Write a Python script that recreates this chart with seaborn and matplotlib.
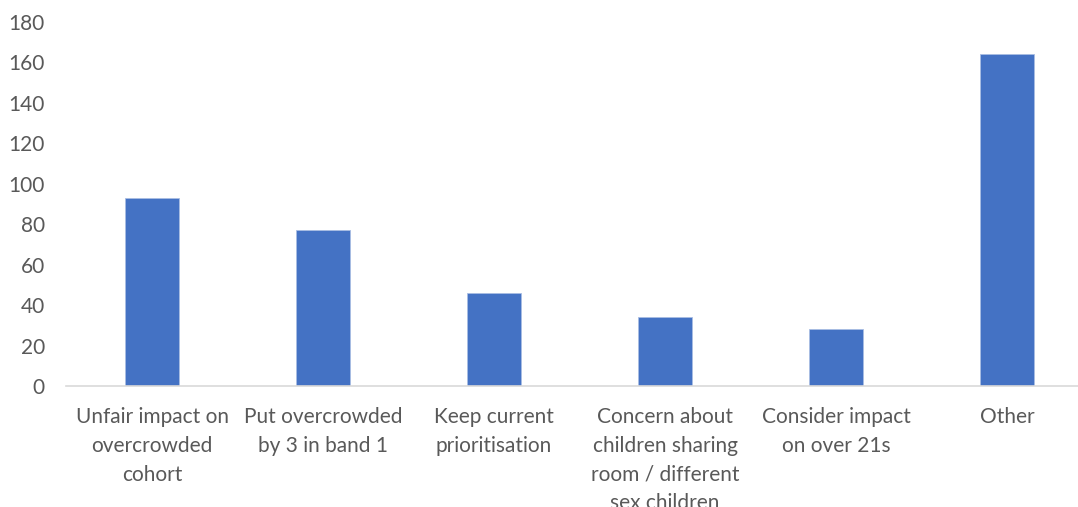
import matplotlib
matplotlib.use("Agg")
import matplotlib.pyplot as plt
import seaborn as sns
import pandas as pd

categories = [
    "Unfair impact on\novercrowded\ncohort",
    "Put overcrowded\nby 3 in band 1",
    "Keep current\nprioritisation",
    "Concern about\nchildren sharing\nroom / different\nsex children",
    "Consider impact\non over 21s",
    "Other",
]
values = [93, 77, 46, 34, 28, 164]
y_ticks = [0, 20, 40, 60, 80, 100, 120, 140, 160, 180]

sns.set_theme(style="white")
plt.rcParams["font.family"] = ["Lato", "DejaVu Sans"]

df = pd.DataFrame({"category": categories, "value": values})

fig = plt.figure(figsize=(10.78, 5.07), dpi=100)
ax = fig.add_axes([66.5 / 1078, 121 / 507, (1078 - 66.5) / 1078, (386 - 22) / 507])

sns.barplot(data=df, x="category", y="value", color="#4472C4", width=0.316,
            saturation=1, edgecolor="#A9BDE3", linewidth=0.6, ax=ax)

ax.set_xlim(-0.5, 5.415)
ax.set_ylim(0, 180)
ax.set_yticks(y_ticks)
ax.set_xlabel("")
ax.set_ylabel("")
for s in ["top", "right", "left"]:
    ax.spines[s].set_visible(False)
ax.spines["bottom"].set_color("#D9D9D9")
ax.spines["bottom"].set_linewidth(1.2)
ax.tick_params(axis="both", length=0, colors="#595959", labelsize=15)
ax.tick_params(axis="y", pad=15.5)
ax.tick_params(axis="x", pad=15.3)
for lab in ax.get_xticklabels():
    lab.set_linespacing(1.54)
ax.grid(False)

fig.savefig("out.png", dpi=100)
